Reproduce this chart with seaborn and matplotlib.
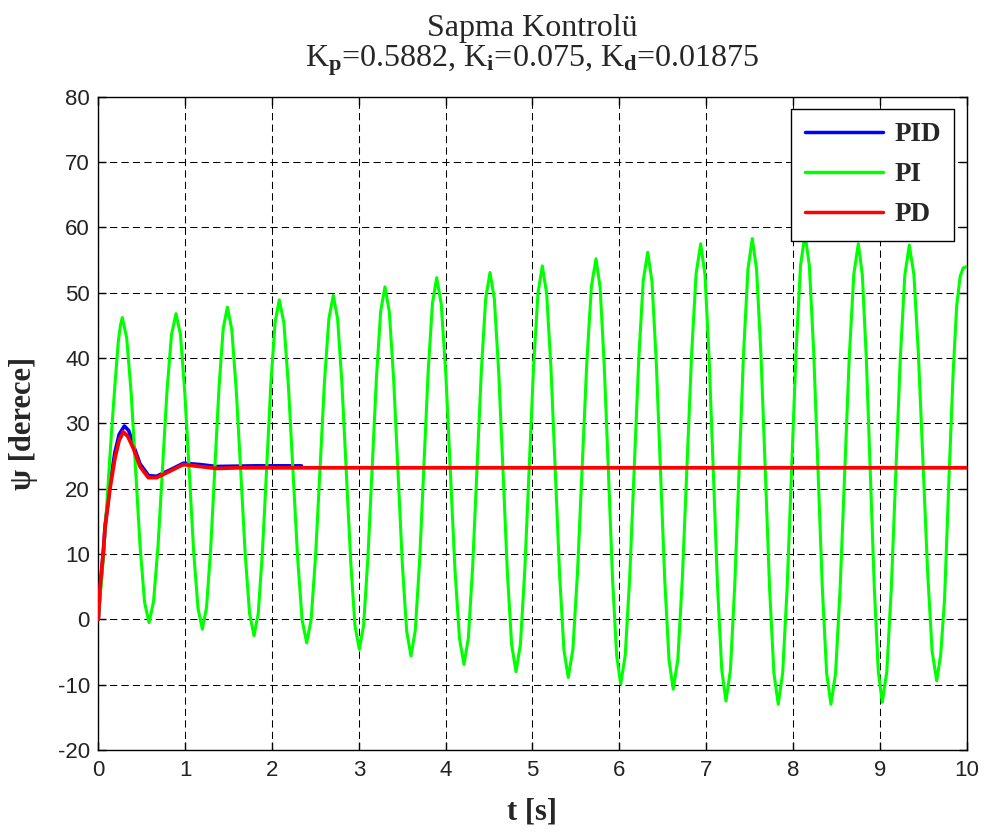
import matplotlib
matplotlib.use("Agg")
import matplotlib.pyplot as plt
import seaborn as sns
import pandas as pd

# Yaw control step responses (time in s, heading angle in degrees)
pid_t = [0.0, 0.02, 0.06, 0.08, 0.14, 0.19, 0.24, 0.30, 0.35, 0.40, 0.48,
         0.58, 0.67, 0.83, 0.98, 1.17, 1.36, 1.8, 2.34]
pid_psi = [0.0, 4.5, 10.6, 14.5, 21.0, 25.5, 28.3, 29.6, 28.9, 26.8, 23.8,
           22.0, 21.9, 22.9, 23.9, 23.7, 23.4, 23.5, 23.5]

pi_t = [0.0, 0.05, 0.10, 0.154, 0.192, 0.23, 0.255, 0.276,
        0.327, 0.379, 0.430, 0.481, 0.533, 0.584,
        0.636, 0.688, 0.740, 0.791, 0.843, 0.895,
        0.946, 0.996, 1.047, 1.097, 1.148, 1.198,
        1.246, 1.294, 1.342, 1.390, 1.438, 1.486,
        1.537, 1.588, 1.640, 1.691, 1.742, 1.793,
        1.842, 1.890, 1.939, 1.987, 2.036, 2.084,
        2.137, 2.189, 2.242, 2.295, 2.347, 2.400,
        2.451, 2.502, 2.553, 2.604, 2.655, 2.706,
        2.756, 2.806, 2.856, 2.906, 2.956, 3.006,
        3.055, 3.104, 3.154, 3.203, 3.252, 3.301,
        3.351, 3.401, 3.451, 3.501, 3.551, 3.601,
        3.650, 3.700, 3.749, 3.798, 3.848, 3.897,
        3.949, 4.002, 4.054, 4.106, 4.159, 4.211,
        4.261, 4.311, 4.361, 4.411, 4.461, 4.511,
        4.561, 4.611, 4.661, 4.710, 4.760, 4.810,
        4.861, 4.911, 4.962, 5.012, 5.063, 5.113,
        5.163, 5.213, 5.263, 5.312, 5.362, 5.412,
        5.465, 5.518, 5.572, 5.625, 5.678, 5.731,
        5.779, 5.826, 5.874, 5.921, 5.969, 6.016,
        6.068, 6.120, 6.172, 6.223, 6.275, 6.327,
        6.376, 6.425, 6.474, 6.523, 6.572, 6.621,
        6.674, 6.726, 6.779, 6.832, 6.884, 6.937,
        6.986, 7.034, 7.083, 7.131, 7.180, 7.228,
        7.279, 7.329, 7.380, 7.430, 7.481, 7.531,
        7.581, 7.631, 7.681, 7.730, 7.780, 7.830,
        7.881, 7.933, 7.984, 8.035, 8.087, 8.138,
        8.188, 8.238, 8.288, 8.337, 8.387, 8.437,
        8.490, 8.542, 8.595, 8.647, 8.700, 8.752,
        8.798, 8.844, 8.890, 8.936, 8.982, 9.028,
        9.080, 9.132, 9.184, 9.235, 9.287, 9.339,
        9.392, 9.444, 9.497, 9.550, 9.602, 9.655,
        9.700, 9.745, 9.800, 9.845, 9.885, 9.925, 9.960, 10.0]
pi_psi = [0.0, 8.0, 18.0, 29.0, 36.0, 42.5, 45.0, 46.2,
          43.1, 34.5, 22.9, 11.2, 2.6, -0.5,
          2.7, 11.3, 23.2, 35.0, 43.6, 46.8,
          43.6, 34.7, 22.7, 10.6, 1.7, -1.5,
          1.8, 10.8, 23.2, 35.5, 44.5, 47.8,
          44.4, 35.2, 22.7, 10.1, 0.9, -2.5,
          0.9, 10.4, 23.2, 36.1, 45.5, 48.9,
          45.4, 35.8, 22.7, 9.5, -0.1, -3.6,
          0.0, 9.7, 23.0, 36.3, 46.0, 49.6,
          46.0, 36.0, 22.5, 9.0, -1.0, -4.6,
          -0.9, 9.3, 23.2, 37.0, 47.2, 50.9,
          47.1, 36.8, 22.7, 8.5, -1.8, -5.6,
          -1.7, 8.9, 23.4, 37.8, 48.4, 52.3,
          48.3, 37.5, 22.7, 7.9, -2.9, -6.9,
          -2.9, 8.1, 23.1, 38.1, 49.1, 53.1,
          49.0, 37.8, 22.6, 7.3, -3.9, -8.0,
          -3.8, 7.5, 23.1, 38.6, 49.9, 54.1,
          49.9, 38.4, 22.6, 6.9, -4.7, -8.9,
          -4.6, 7.1, 23.2, 39.2, 50.9, 55.2,
          50.8, 38.9, 22.7, 6.4, -5.5, -9.9,
          -5.5, 6.6, 23.2, 39.7, 51.8, 56.2,
          51.7, 39.5, 22.8, 6.0, -6.2, -10.7,
          -6.1, 6.4, 23.4, 40.5, 52.9, 57.5,
          52.8, 40.0, 22.5, 5.0, -7.8, -12.5,
          -7.8, 5.2, 22.9, 40.6, 53.6, 58.3,
          53.5, 40.5, 22.7, 4.8, -8.2, -13.0,
          -8.2, 5.0, 23.0, 41.0, 54.2, 59.0,
          54.2, 41.0, 23.0, 5.0, -8.2, -13.0,
          -8.3, 4.6, 22.3, 39.9, 52.8, 57.5,
          52.8, 40.0, 22.4, 4.9, -8.0, -12.7,
          -8.0, 4.8, 22.3, 39.8, 52.6, 57.3,
          52.8, 40.6, 24.0, 7.3, -4.9, -9.4,
          -5.5, 3.0, 23.0, 38.0, 48.0, 52.5, 53.8, 54.0]

pd_t = [0.0, 0.02, 0.058, 0.077, 0.135, 0.192, 0.24, 0.288, 0.34, 0.403,
        0.48, 0.576, 0.672, 0.826, 0.979, 1.171, 1.363, 1.6, 10.0]
pd_psi = [0.0, 4.8, 10.4, 14.0, 20.1, 24.7, 27.4, 28.7, 28.0, 26.2,
          23.4, 21.7, 21.7, 22.7, 23.7, 23.4, 23.1, 23.2, 23.2]

series_names = ["PID", "PI", "PD"]
series_colors = ["#0000ff", "#00ff00", "#ff0000"]
series_widths = [2.6, 2.2, 2.7]

x_ticks = list(range(0, 11))
y_ticks = list(range(-20, 81, 10))

title_text = ("Sapma Kontrolü\n"
              r"K$_\mathbf{p}$=0.5882, K$_\mathbf{i}$=0.075, K$_\mathbf{d}$=0.01875")
x_label = "t [s]"
y_label = "ψ [derece]"

sns.set_theme(style="ticks")
plt.rcParams["font.family"] = ["Liberation Serif", "DejaVu Serif"]
plt.rcParams["mathtext.fontset"] = "custom"
plt.rcParams["mathtext.rm"] = "Liberation Serif"
plt.rcParams["mathtext.bf"] = "Liberation Serif:bold"
plt.rcParams["mathtext.it"] = "Liberation Serif:italic"

fig = plt.figure(figsize=(9.85, 8.34), dpi=100)
fig.patch.set_facecolor("white")
ax = fig.add_axes([0.0998, 0.1007, 0.8816, 0.7833])
ax.set_facecolor("white")

frames = [
    pd.DataFrame({"t": pid_t, "psi": pid_psi}),
    pd.DataFrame({"t": pi_t, "psi": pi_psi}),
    pd.DataFrame({"t": pd_t, "psi": pd_psi}),
]
for frame, name, color, lw in zip(frames, series_names, series_colors, series_widths):
    sns.lineplot(data=frame, x="t", y="psi", ax=ax, color=color, linewidth=lw,
                 label=name, sort=False, estimator=None, zorder=3)
for line in ax.get_lines():
    line.set_solid_joinstyle("round")

ax.set_xlim(0, 10)
ax.set_ylim(-20, 80)
ax.set_xticks(x_ticks)
ax.set_yticks(y_ticks)
ax.set_xticklabels([str(v) for v in x_ticks], family="Liberation Sans", fontsize=16)
ax.set_yticklabels([str(v) for v in y_ticks], family="Liberation Sans", fontsize=16)
ax.tick_params(direction="in", length=6, width=1, color="black",
               top=True, right=True, labelcolor="#222222")
ax.tick_params(axis="x", pad=7)
ax.tick_params(axis="y", pad=6)

ax.grid(True, color="black", linestyle=(0, (7, 4)), linewidth=0.75, alpha=1.0)
ax.set_axisbelow(True)
for spine in ax.spines.values():
    spine.set_visible(True)
    spine.set_color("black")
    spine.set_linewidth(1.0)

ax.set_title(title_text, fontsize=23, pad=22, linespacing=1.0)
ax.set_xlabel(x_label, fontsize=22, fontweight="bold", labelpad=12)
ax.set_ylabel(y_label, fontsize=22, fontweight="bold", labelpad=14)

leg = ax.legend(loc="upper right", prop={"family": "Liberation Serif", "weight": "bold", "size": 19.5},
                frameon=True, fancybox=False, framealpha=1.0, edgecolor="black",
                borderpad=0.5, labelspacing=0.55, handlelength=2.9, handletextpad=0.4,
                borderaxespad=0.45)
leg.get_frame().set_linewidth(1.0)
leg.set_zorder(10)
for h in leg.get_lines():
    h.set_linewidth(2.5)

fig.savefig("out.png", dpi=100, facecolor="white")
